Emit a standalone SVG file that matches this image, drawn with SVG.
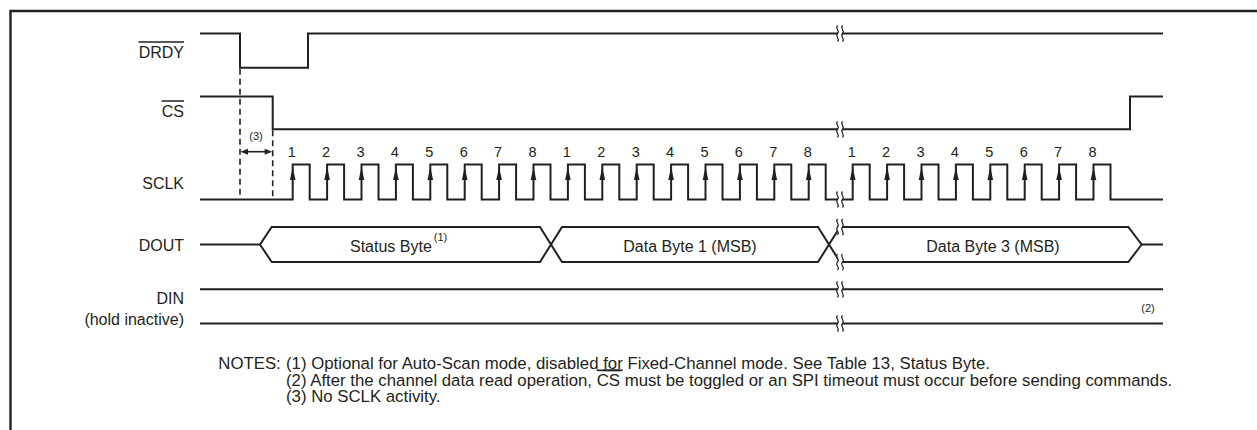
<svg xmlns="http://www.w3.org/2000/svg" xmlns:xlink="http://www.w3.org/1999/xlink" width="1257" height="430" viewBox="0 0 1257 430">
<style>
text{font-family:"Liberation Sans",Arial,sans-serif;fill:#231f20}
.lbl{font-size:16px;text-anchor:end}
.num{font-size:14.5px;text-anchor:middle}
.bus{font-size:16px}
.sm{font-size:11px}
.note{font-size:16.8px}
.sig{fill:none;stroke:#231f20;stroke-width:2;stroke-linejoin:miter}
.ov{stroke:#231f20;stroke-width:1.5}
.dash{fill:none;stroke:#231f20;stroke-width:1.6;stroke-dasharray:6 4}
.brkl{fill:none;stroke:#231f20;stroke-width:1.2}
</style>
<defs>
<g id="brk">
<path d="M-2.5,-8 C-5.5,-5 0.5,-3 -2.5,0 C-5.5,3 0.5,5 -2.5,8 L2.5,8 C5.5,5 -0.5,3 2.5,0 C5.5,-3 -0.5,-5 2.5,-8 Z" fill="#fff"/>
<path class="brkl" d="M-2.5,-8 C-5.5,-5 0.5,-3 -2.5,0 C-5.5,3 0.5,5 -2.5,8 M2.5,-8 C-0.5,-5 5.5,-3 2.5,0 C-0.5,3 5.5,5 2.5,8"/>
</g>
<polygon id="up" points="0,167 -2.8,180 2.8,180" fill="#231f20"/>
</defs>
<path d="M10.5,430 V11 H1257" fill="none" stroke="#231f20" stroke-width="2.4"/>

<g id="drdy">
<text class="lbl" x="184" y="57.5">DRDY</text>
<line class="ov" x1="138.5" y1="42" x2="184" y2="42"/>
<path class="sig" d="M200,33.5 H240 V67.7 H308 V33.5 H1163"/>
<use xlink:href="#brk" x="840" y="33.5"/>
</g>

<g id="cs">
<text class="lbl" x="184" y="117">CS</text>
<line class="ov" x1="161.5" y1="101" x2="184" y2="101"/>
<path class="sig" d="M200,96.5 H272.7 V129.3 H1130 V96.5 H1163"/>
<use xlink:href="#brk" x="840" y="129.3"/>
</g>

<g id="sclk">
<text class="lbl" x="184" y="189.3">SCLK</text>
<path class="sig" d="M200,199.5 H292.7 V164.5 h17 V199.5 h17.4 V164.5 h17 V199.5 h17.4 V164.5 h17 V199.5 h17.4 V164.5 h17 V199.5 h17.4 V164.5 h17 V199.5 h17.4 V164.5 h17 V199.5 h17.4 V164.5 h17 V199.5 h17.4 V164.5 h17 V199.5 h17.4 V164.5 h17 V199.5 h17.4 V164.5 h17 V199.5 h17.4 V164.5 h17 V199.5 h17.4 V164.5 h17 V199.5 h17.4 V164.5 h17 V199.5 h17.4 V164.5 h17 V199.5 h17.4 V164.5 h17 V199.5 h17.4 V164.5 h17 V199.5 H852.7 V164.5 h17 V199.5 h17.4 V164.5 h17 V199.5 h17.4 V164.5 h17 V199.5 h17.4 V164.5 h17 V199.5 h17.4 V164.5 h17 V199.5 h17.4 V164.5 h17 V199.5 h17.4 V164.5 h17 V199.5 h17.4 V164.5 h17 V199.5 H1163"/>
<use xlink:href="#brk" x="840" y="199.5"/>
<use xlink:href="#up" x="292.7"/><use xlink:href="#up" x="327.1"/><use xlink:href="#up" x="361.5"/><use xlink:href="#up" x="395.9"/><use xlink:href="#up" x="430.3"/><use xlink:href="#up" x="464.7"/><use xlink:href="#up" x="499.1"/><use xlink:href="#up" x="533.5"/>
<use xlink:href="#up" x="567.9"/><use xlink:href="#up" x="602.3"/><use xlink:href="#up" x="636.7"/><use xlink:href="#up" x="671.1"/><use xlink:href="#up" x="705.5"/><use xlink:href="#up" x="739.9"/><use xlink:href="#up" x="774.3"/><use xlink:href="#up" x="808.7"/>
<use xlink:href="#up" x="852.7"/><use xlink:href="#up" x="887.1"/><use xlink:href="#up" x="921.5"/><use xlink:href="#up" x="955.9"/><use xlink:href="#up" x="990.3"/><use xlink:href="#up" x="1024.7"/><use xlink:href="#up" x="1059.1"/><use xlink:href="#up" x="1093.5"/>
<text class="num" x="291.7" y="157">1</text><text class="num" x="326.1" y="157">2</text><text class="num" x="360.5" y="157">3</text><text class="num" x="394.9" y="157">4</text><text class="num" x="429.3" y="157">5</text><text class="num" x="463.7" y="157">6</text><text class="num" x="498.1" y="157">7</text><text class="num" x="532.5" y="157">8</text>
<text class="num" x="566.9" y="157">1</text><text class="num" x="601.3" y="157">2</text><text class="num" x="635.7" y="157">3</text><text class="num" x="670.1" y="157">4</text><text class="num" x="704.5" y="157">5</text><text class="num" x="738.9" y="157">6</text><text class="num" x="773.3" y="157">7</text><text class="num" x="807.7" y="157">8</text>
<text class="num" x="851.7" y="157">1</text><text class="num" x="886.1" y="157">2</text><text class="num" x="920.5" y="157">3</text><text class="num" x="954.9" y="157">4</text><text class="num" x="989.3" y="157">5</text><text class="num" x="1023.7" y="157">6</text><text class="num" x="1058.1" y="157">7</text><text class="num" x="1092.5" y="157">8</text>
</g>

<g id="dout">
<text class="lbl" x="184" y="250.7">DOUT</text>
<path class="sig" d="M200,244.5 H260 L271.7,227 H540 L562,262 H818 L840,227 H1128.3 L1141.7,244.5 H1163"/>
<path class="sig" d="M260,244.5 L271.7,262 H540 L562,227 H818 L840,262 H1128.3 L1141.7,244.5"/>
<use xlink:href="#brk" x="840" y="227"/>
<use xlink:href="#brk" x="840" y="262"/>
<text class="bus" x="350" y="251.5">Status Byte<tspan class="sm" dx="2" dy="-11">(1)</tspan></text>
<text class="bus" x="690" y="251.5" text-anchor="middle">Data Byte 1 (MSB)</text>
<text class="bus" x="993" y="251.5" text-anchor="middle">Data Byte 3 (MSB)</text>
</g>

<g id="din">
<text class="lbl" x="184" y="304">DIN</text>
<text class="lbl" x="184" y="325">(hold inactive)</text>
<path class="sig" d="M200,289.3 H1163 M200,323.5 H1163"/>
<use xlink:href="#brk" x="840" y="289.3"/>
<use xlink:href="#brk" x="840" y="323.5"/>
<text class="sm" x="1148" y="311.5" text-anchor="middle">(2)</text>
</g>

<g id="connectors">
<line class="dash" x1="240" y1="68.7" x2="240" y2="197"/>
<line class="dash" x1="272.7" y1="130.3" x2="272.7" y2="197"/>
<line x1="245" y1="151.7" x2="268" y2="151.7" stroke="#231f20" stroke-width="1.6"/>
<polygon points="240.5,151.7 248,148.7 248,154.7" fill="#231f20"/>
<polygon points="272.2,151.7 264.7,148.7 264.7,154.7" fill="#231f20"/>
<text class="sm" x="256" y="140" text-anchor="middle">(3)</text>
</g>

<g id="notes">
<text class="note" x="218.3" y="368.5">NOTES:</text>
<text class="note" x="286" y="368.5">(1) Optional for Auto-Scan mode, disabled <tspan text-decoration="underline">for</tspan> Fixed-Channel mode. See Table 13, Status Byte.</text>
<text class="note" x="286" y="385.5">(2) After the channel data read operation, <tspan text-decoration="overline">CS</tspan> must be toggled or an SPI timeout must occur before sending commands.</text>
<text class="note" x="286" y="402">(3) No SCLK activity.</text>
</g>
</svg>
